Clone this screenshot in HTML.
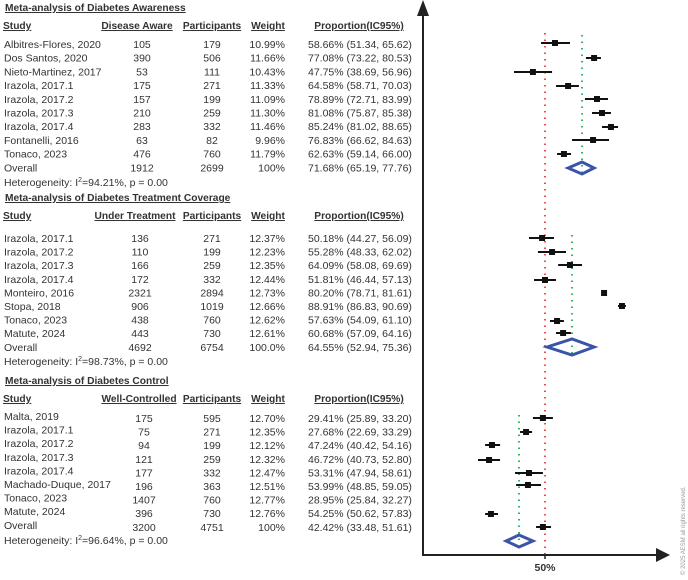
<!DOCTYPE html>
<html><head><meta charset="utf-8"><style>
body{margin:0;background:#fff;}
svg{display:block;font-family:"Liberation Sans",sans-serif;}
.t{font-size:10.5px;fill:#333;}
.h{font-size:10.2px;font-weight:bold;fill:#333;text-decoration:underline;}
</style></head><body>
<svg id="c" width="688" height="580" viewBox="0 0 688 580"></svg>
<script>
// ---- data (plotted estimates read from the chart axis, percent) ----
const awareMid=[54.8,73.6,44.2,61.1,75.0,77.4,81.7,73.1,59.1];
const awareLo=[48.1,69.7,35.1,55.3,69.2,72.6,77.4,63.0,55.8];
const awareHi=[62.0,76.9,53.4,66.3,80.3,81.7,85.1,80.8,62.5];
const awarePooled=[61.1,67.8,73.6];
const treatMid=[48.6,53.4,62.0,50.0,78.4,87.0,55.8,58.7];
const treatLo=[42.3,46.6,56.3,44.7,77.4,85.1,52.4,55.3];
const treatHi=[54.3,60.1,67.8,55.3,79.3,88.9,59.1,62.5];
const treatPooled=[51.0,63.0,73.6];
const ctrlMid=[49.0,40.9,24.5,23.1,42.3,41.8,24.0,49.0];
const ctrlLo=[44.2,38.0,21.2,17.8,35.6,36.1,21.2,45.7];
const ctrlHi=[53.8,43.8,28.4,28.4,49.0,48.1,27.4,52.9];
const ctrlPooled=[31.3,37.5,44.2];
const refValue=50;
const refLabel="50%";
const awareRows=[
["Albitres-Flores, 2020","105","179","10.99%","58.66% (51.34, 65.62)"],
["Dos Santos, 2020","390","506","11.66%","77.08% (73.22, 80.53)"],
["Nieto-Martinez, 2017","53","111","10.43%","47.75% (38.69, 56.96)"],
["Irazola, 2017.1","175","271","11.33%","64.58% (58.71, 70.03)"],
["Irazola, 2017.2","157","199","11.09%","78.89% (72.71, 83.99)"],
["Irazola, 2017.3","210","259","11.30%","81.08% (75.87, 85.38)"],
["Irazola, 2017.4","283","332","11.46%","85.24% (81.02, 88.65)"],
["Fontanelli, 2016","63","82","9.96%","76.83% (66.62, 84.63)"],
["Tonaco, 2023","476","760","11.79%","62.63% (59.14, 66.00)"],
["Overall","1912","2699","100%","71.68% (65.19, 77.76)"]];
const treatRows=[
["Irazola, 2017.1","136","271","12.37%","50.18% (44.27, 56.09)"],
["Irazola, 2017.2","110","199","12.23%","55.28% (48.33, 62.02)"],
["Irazola, 2017.3","166","259","12.35%","64.09% (58.08, 69.69)"],
["Irazola, 2017.4","172","332","12.44%","51.81% (46.44, 57.13)"],
["Monteiro, 2016","2321","2894","12.73%","80.20% (78.71, 81.61)"],
["Stopa, 2018","906","1019","12.66%","88.91% (86.83, 90.69)"],
["Tonaco, 2023","438","760","12.62%","57.63% (54.09, 61.10)"],
["Matute, 2024","443","730","12.61%","60.68% (57.09, 64.16)"],
["Overall","4692","6754","100.0%","64.55% (52.94, 75.36)"]];
const ctrlRows=[
["Malta, 2019","175","595","12.70%","29.41% (25.89, 33.20)"],
["Irazola, 2017.1","75","271","12.35%","27.68% (22.69, 33.29)"],
["Irazola, 2017.2","94","199","12.12%","47.24% (40.42, 54.16)"],
["Irazola, 2017.3","121","259","12.32%","46.72% (40.73, 52.80)"],
["Irazola, 2017.4","177","332","12.47%","53.31% (47.94, 58.61)"],
["Machado-Duque, 2017","196","363","12.51%","53.99% (48.85, 59.05)"],
["Tonaco, 2023","1407","760","12.77%","28.95% (25.84, 32.27)"],
["Matute, 2024","396","730","12.76%","54.25% (50.62, 57.83)"]];
const ctrlOverall=["Overall","3200","4751","100%","42.42% (33.48, 51.61)"];

const NS="http://www.w3.org/2000/svg";
const svg=document.getElementById('c');
function x(p){return 545+(p-refValue)*2.08;}
function el(tag,attrs,parent){const e=document.createElementNS(NS,tag);for(const k in attrs)e.setAttribute(k,attrs[k]);(parent||svg).appendChild(e);return e;}
function txt(s,xx,yy,cls,anchor){const e=el('text',{x:xx,y:yy,class:cls,'text-anchor':anchor||'start'});e.textContent=s;return e;}

function section(title,titleY,colName,colX,rows,rowY0,dy,hetY,het,key){
  let t=txt(title,5,titleY,'h');
  
  
  const hy=titleY+18;
  const hs=[["Study",3,'start'],[colName,colX,'middle'],["Participants",212,'middle'],["Weight",268,'middle'],["Proportion(IC95%)",359,'middle']];
  hs.forEach(h=>{const e=txt(h[0],h[1],hy,'h',h[2]);
    
    });
  rows.forEach((r,i)=>{
    const y=rowY0+i*dy+4;
    const cells=[[r[0],4,'start',0],[r[1],colX+5,'middle',1],[r[2],212,'middle',1],[r[3],285,'end',1],[r[4],308,'start',1]];
    cells.forEach(c=>{const e=txt(c[0],c[1],y+(key==='control'?c[3]*2:0),'t',c[2]);
      
      });
  });
  const he=el('text',{x:4,y:hetY+4,class:'t'});
  he.innerHTML='Heterogeneity: I<tspan dy="-4" font-size="7">2</tspan><tspan dy="4">='+het+', p = 0.00</tspan>';
  
  
}
section("Meta-analysis of Diabetes Awareness",11,"Disease Aware",137,awareRows,44,13.7,182,"94.21%","awareness");
section("Meta-analysis of Diabetes Treatment Coverage",201,"Under Treatment",135,treatRows,238,13.6,361,"98.73%","treatment");
section("Meta-analysis of Diabetes Control",384,"Well-Controlled",139,ctrlRows.concat([ctrlOverall]),416,13.6,540,"96.64%","control");

let rl=el('line',{x1:x(refValue),x2:x(refValue),y1:33,y2:555,stroke:'#e8504a','stroke-width':2,'stroke-dasharray':'1.5 5'});



function series(mid,lo,hi,ys,pooled,py,ph,gy1,gy2,key){
  let gl=el('line',{x1:x(pooled[1]),x2:x(pooled[1]),y1:gy1,y2:gy2,stroke:'#2fb56a','stroke-width':2,'stroke-dasharray':'1.5 5'});
  
  
  mid.forEach((m,i)=>{
    const y=ys[i];
    const l=el('line',{x1:x(lo[i]),x2:x(hi[i]),y1:y,y2:y,stroke:'#111','stroke-width':2});
    
    
    const r=el('rect',{x:x(m)-3,y:y-3,width:6,height:6,fill:'#111'});
    
    
  });
  const d=el('polygon',{points:`${x(pooled[0])},${py} ${x(pooled[1])},${py-ph} ${x(pooled[2])},${py} ${x(pooled[1])},${py+ph}`,fill:'none',stroke:'#3a55a8','stroke-width':3});
  
  
}
series(awareMid,awareLo,awareHi,[43,58,72,86,99,113,127,140,154],awarePooled,168,6,35,175,'awareness');
series(treatMid,treatLo,treatHi,[238,252,265,280,293,306,321,333],treatPooled,347,8,235,355,'treatment');
series(ctrlMid,ctrlLo,ctrlHi,[418,432,445,460,473,485,514,527],ctrlPooled,541,6,415,545,'control');

let ya=el('line',{x1:423,x2:423,y1:10,y2:556,stroke:'#222','stroke-width':2});


let yh=el('polygon',{points:'417,16 423,0 429,16',fill:'#222'});


let xa=el('line',{x1:423,x2:660,y1:555,y2:555,stroke:'#222','stroke-width':2});


let xh=el('polygon',{points:'656,548 670,555 656,562',fill:'#222'});


let tk=el('line',{x1:x(refValue),x2:x(refValue),y1:555,y2:559,stroke:'#222','stroke-width':1.5});


let tl=txt(refLabel,x(refValue),571,'t','middle');
tl.setAttribute('font-weight','bold');


let wm=el('text',{x:0,y:0,transform:'translate(685,575) rotate(-90)','font-size':'6',fill:'#999'});
wm.textContent='© 2025 AESM all rights reserved.';


</script>
</body></html>
